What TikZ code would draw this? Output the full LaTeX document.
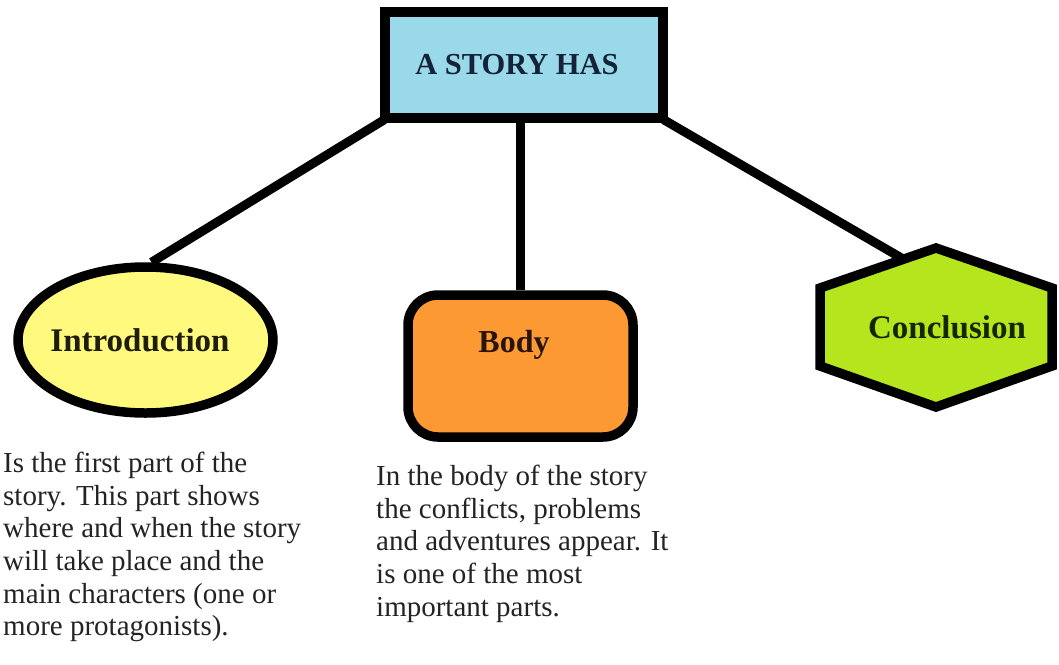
\documentclass[tikz,border=0pt]{standalone}
\usepackage{fontspec}
\setmainfont{Liberation Serif}
\usetikzlibrary{shapes.geometric,calc}
\definecolor{topblue}{RGB}{153,217,234}
\definecolor{introyellow}{RGB}{255,249,125}
\definecolor{bodyorange}{RGB}{252,153,51}
\definecolor{conclgreen}{RGB}{181,230,29}
\definecolor{desctext}{RGB}{35,35,35}
\pgfdeclarelayer{bg}
\pgfsetlayers{bg,main}
\begin{document}
\begin{tikzpicture}[x=1pt,y=-1pt,
  conn/.style={draw=black, line width=9pt},
  shapeline/.style={draw=black, line width=9.5pt, line join=miter},
  lbl/.style={font=\fontsize{33}{36}\selectfont\bfseries, inner sep=0},
  desc/.style={font=\fontsize{29}{32.6}\selectfont, align=left, anchor=north west, inner sep=0, text=desctext}]
\useasboundingbox (0,0) rectangle (1059,664);

% top box
\node[shapeline, fill=topblue, minimum width=278pt, minimum height=106pt, inner sep=0] (top) at (524,65) {};
\node[lbl, font=\fontsize{30.5}{33}\selectfont\bfseries, text={rgb,255:red,20;green,35;blue,55}] (toptext) at (517,65) {A STORY HAS};

% introduction ellipse
\node[ellipse, shapeline, fill=introyellow, minimum width=255pt, minimum height=146pt, inner sep=0] (intro) at (145.5,340) {};
\node[lbl, text={rgb,255:red,30;green,30;blue,10}] (introtext) at (140,340) {Introduction};

% body rounded rectangle
\node[shapeline, rounded corners=30pt, fill=bodyorange, minimum width=225pt, minimum height=142pt, inner sep=0] (body) at (520.5,366) {};
\node[lbl, font=\fontsize{32}{35}\selectfont\bfseries, text={rgb,255:red,40;green,20;blue,10}] (bodytext) at (514,345) {Body};

% conclusion hexagon
\coordinate (hT) at (936,248);
\coordinate (hUR) at (1052,288);
\coordinate (hLR) at (1052,366);
\coordinate (hB) at (936,407);
\coordinate (hLL) at (820,366);
\coordinate (hUL) at (820,288);
\draw[shapeline, fill=conclgreen] (hT) -- (hUR) -- (hLR) -- (hB) -- (hLL) -- (hUL) -- cycle;
\node[lbl, text={rgb,255:red,20;green,40;blue,0}] (concl) at (947,327) {Conclusion};
\coordinate (hin) at ($(hUL)!0.72!(hT)$);

% connectors
\begin{pgfonlayer}{bg}
\draw[conn] ($(top.south west)+(4,-3)$) -- ($(intro.north)+(6,0)$);
\draw[conn] (body.north) -- (body.north |- top.south);
\draw[conn] ($(top.south east)+(-4,-3)$) -- (hin);
\end{pgfonlayer}

% descriptions
\node[desc] (introdesc) at (3,452) {Is the first part of the\\ story. This part shows\\ where and when the story\\ will take place and the\\ main characters (one or\\ more protagonists).};
\node[desc] (bodydesc) at (376,465) {In the body of the story\\ the conflicts, problems\\ and adventures appear. It\\ is one of the most\\ important parts.};
\end{tikzpicture}
\end{document}
